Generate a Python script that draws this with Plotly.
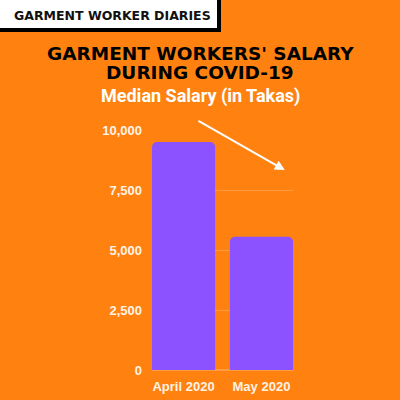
import plotly.graph_objects as go

months = ["April 2020", "May 2020"]
median_salary = [9500, 5550]
y_ticks = [0, 2500, 5000, 7500, 10000]
y_tick_labels = ["0", "2,500", "5,000", "7,500", "10,000"]

BG = "#FF8210"
BAR = "#8C52FF"
TXT = "#FFF3E6"

fig = go.Figure(go.Bar(x=months, y=median_salary, marker=dict(color=BAR, line=dict(width=0))))

fig.update_layout(
    width=400, height=400,
    paper_bgcolor=BG, plot_bgcolor=BG,
    margin=dict(l=152, r=107, t=130, b=30),
    bargap=0.19, barcornerradius=5,
    showlegend=False,
    font=dict(family="Liberation Sans", color=TXT),
)
fig.update_xaxes(type="category", range=[-0.405, 1.405], showgrid=False, zeroline=False,
                 showline=False, ticks="outside", ticklen=4, tickcolor=BG, automargin=False,
                 tickfont=dict(family="Liberation Sans", size=13, color=TXT, weight="bold"))
fig.update_yaxes(range=[0, 10000], tickvals=y_ticks, ticktext=y_tick_labels, showgrid=True,
                 gridcolor="rgba(255,220,180,0.3)", gridwidth=1, zeroline=True, automargin=False,
                 zerolinecolor="rgba(255,220,180,0.3)", ticks="", ticklabelstandoff=9,
                 tickfont=dict(family="Liberation Sans", size=13, color=TXT, weight="bold"))

def px_x(p):
    return (p - 152) / 141

def px_y(p):
    return (370 - p) / 240

# Header box
fig.add_shape(type="rect", xref="paper", yref="paper",
              x0=px_x(-3), x1=px_x(219), y0=px_y(30), y1=px_y(-3),
              fillcolor="white", line=dict(color="black", width=4), layer="above")
fig.add_annotation(xref="paper", yref="paper", x=px_x(112), y=px_y(16),
                   xanchor="center", yanchor="middle",
                   text="GARMENT WORKER DIARIES", showarrow=False,
                   font=dict(family="DejaVu Sans", size=12.5, color="#111111", weight="bold"))
fig.add_annotation(xref="paper", yref="paper", x=px_x(200), y=px_y(53),
                   xanchor="center", yanchor="middle",
                   text="GARMENT WORKERS' SALARY", showarrow=False,
                   font=dict(family="DejaVu Sans", size=18.5, color="#000000", weight="bold"))
fig.add_annotation(xref="paper", yref="paper", x=px_x(200), y=px_y(73),
                   xanchor="center", yanchor="middle",
                   text="DURING COVID-19", showarrow=False,
                   font=dict(family="DejaVu Sans", size=18.5, color="#000000", weight="bold"))
fig.add_annotation(xref="paper", yref="paper", x=px_x(200), y=px_y(96),
                   xanchor="center", yanchor="middle",
                   text="Median Salary (in Takas)", showarrow=False,
                   font=dict(family="Roboto", size=18, color="white", weight="bold"))
# Arrow
fig.add_annotation(x=1.3, y=8330, ax=0.172, ay=10420, xref="x", yref="y", axref="x", ayref="y",
                   text="", showarrow=True, arrowhead=2, arrowsize=1, arrowwidth=2,
                   arrowcolor="white")

fig.write_html("out.html")
